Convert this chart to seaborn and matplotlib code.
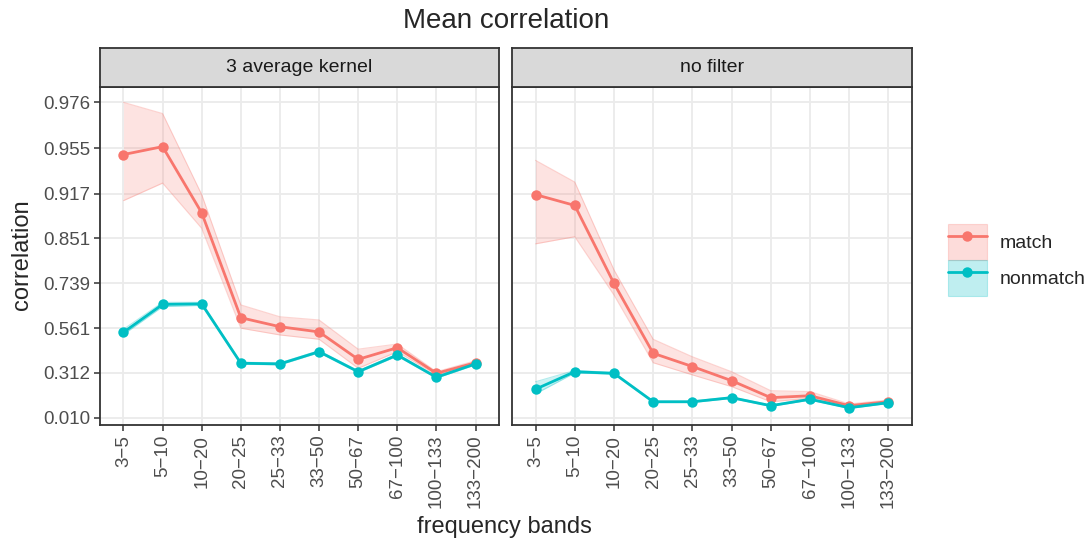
import numpy as np
import pandas as pd
import matplotlib
matplotlib.use("Agg")
import matplotlib.pyplot as plt
import seaborn as sns
from matplotlib.patches import Patch
from matplotlib.lines import Line2D

# --------------------------------------------------
# data (correlations)
# --------------------------------------------------
bands = ["3\u22125", "5\u221210", "10\u221220", "20\u221225", "25\u221233",
         "33\u221250", "50\u221267", "67\u2212100", "100\u2212133", "133\u2212200"]
panels = ["3 average kernel", "no filter"]
groups = ["match", "nonmatch"]

# 3 average kernel
kernel_match = [0.951, 0.956, 0.893, 0.609, 0.568, 0.543, 0.395, 0.461, 0.310, 0.375]
kernel_match_lo = [0.909, 0.928, 0.869, 0.561, 0.528, 0.506, 0.341, 0.439, 0.300, 0.362]
kernel_match_hi = [0.976, 0.972, 0.916, 0.662, 0.613, 0.599, 0.453, 0.481, 0.320, 0.387]
kernel_nonmatch = [0.541, 0.664, 0.666, 0.372, 0.368, 0.439, 0.320, 0.420, 0.285, 0.368]
kernel_nonmatch_lo = [0.530, 0.655, 0.660, 0.366, 0.362, 0.433, 0.314, 0.414, 0.279, 0.362]
kernel_nonmatch_hi = [0.556, 0.672, 0.672, 0.378, 0.374, 0.445, 0.326, 0.426, 0.291, 0.374]

# no filter
nofilt_match = [0.916, 0.903, 0.738, 0.430, 0.352, 0.263, 0.150, 0.163, 0.095, 0.123]
nofilt_match_lo = [0.840, 0.854, 0.699, 0.375, 0.300, 0.224, 0.122, 0.146, 0.084, 0.112]
nofilt_match_hi = [0.947, 0.929, 0.778, 0.506, 0.410, 0.320, 0.197, 0.191, 0.107, 0.134]
nofilt_nonmatch = [0.207, 0.320, 0.310, 0.122, 0.122, 0.150, 0.095, 0.139, 0.081, 0.116]
nofilt_nonmatch_lo = [0.176, 0.312, 0.305, 0.117, 0.117, 0.145, 0.090, 0.134, 0.076, 0.111]
nofilt_nonmatch_hi = [0.256, 0.328, 0.315, 0.127, 0.127, 0.155, 0.100, 0.144, 0.086, 0.121]

y_ticks = [0.010, 0.312, 0.561, 0.739, 0.851, 0.917, 0.955, 0.976]

# --------------------------------------------------
# long table, y on Fisher-z (atanh) scale
# --------------------------------------------------
series = {
    ("3 average kernel", "match"): (kernel_match, kernel_match_lo, kernel_match_hi),
    ("3 average kernel", "nonmatch"): (kernel_nonmatch, kernel_nonmatch_lo, kernel_nonmatch_hi),
    ("no filter", "match"): (nofilt_match, nofilt_match_lo, nofilt_match_hi),
    ("no filter", "nonmatch"): (nofilt_nonmatch, nofilt_nonmatch_lo, nofilt_nonmatch_hi),
}
rows = []
for (panel, grp), (mid, lo, hi) in series.items():
    for i, b in enumerate(bands):
        rows.append({"panel": panel, "group": grp, "band": b, "pos": i,
                     "z": np.arctanh(mid[i]), "zlo": np.arctanh(lo[i]), "zhi": np.arctanh(hi[i])})
df = pd.DataFrame(rows)

palette = {"match": "#F8766D", "nonmatch": "#00BFC4"}

sns.set_style("white")
plt.rcParams["font.family"] = ["Liberation Sans", "DejaVu Sans"]

W, H = 1089, 542
fig = plt.figure(figsize=(W / 100, H / 100), dpi=100)

def fx(px):
    return px / W

def fy(py):
    return 1 - py / H

panel_x = [(100, 499), (512, 912)]
top_px, bot_px, strip_top = 87, 425, 48

zt = np.arctanh(y_ticks)
for k, panel in enumerate(panels):
    x0, x1 = panel_x[k]
    ax = fig.add_axes([fx(x0), fy(bot_px), fx(x1 - x0), (bot_px - top_px) / H])
    sub = df[df["panel"] == panel]
    for grp in groups:
        g = sub[sub["group"] == grp]
        ax.fill_between(g["pos"], g["zlo"], g["zhi"], color=palette[grp], alpha=0.2, lw=0)
        ax.plot(g["pos"], g["zlo"], color=palette[grp], alpha=0.3, lw=0.8)
        ax.plot(g["pos"], g["zhi"], color=palette[grp], alpha=0.3, lw=0.8)
    sns.lineplot(data=sub, x="pos", y="z", hue="group", palette=palette,
                 marker="o", markersize=7.5, markeredgewidth=0, linewidth=2,
                 legend=False, ax=ax, zorder=3)
    ax.set_xlim(-0.6, 9.6)
    ax.set_ylim(-0.039, 2.312)
    ax.set_xticks(range(len(bands)))
    ax.set_xticklabels(bands, rotation=90, fontsize=13.5, color="#4D4D4D")
    ax.set_yticks(zt)
    if k == 0:
        ax.set_yticklabels([f"{v:.3f}" for v in y_ticks], fontsize=13.5, color="#4D4D4D")
    else:
        ax.set_yticklabels([])
    ax.grid(True, color="#EBEBEB", lw=1.3)
    ax.set_axisbelow(True)
    ax.set_xlabel("")
    ax.set_ylabel("")
    for s in ax.spines.values():
        s.set_color("#333333")
        s.set_linewidth(1.3)
    ax.tick_params(axis="both", length=4, width=1.1, color="#333333", pad=3,
                   left=(k == 0), bottom=True)

    # facet strip
    sax = fig.add_axes([fx(x0), fy(top_px), fx(x1 - x0), (top_px - strip_top) / H])
    sax.set_facecolor("#D9D9D9")
    sax.set_xticks([])
    sax.set_yticks([])
    for s in sax.spines.values():
        s.set_color("#333333")
        s.set_linewidth(1.3)
    sax.text(0.5, 0.5, panel, ha="center", va="center", fontsize=14, color="#1A1A1A")

fig.text(fx(506), fy(21), "Mean correlation", ha="center", va="center", fontsize=20)
fig.text(fx(22), fy(255), "correlation", ha="center", va="center", rotation=90, fontsize=17)
fig.text(fx(504), fy(527), "frequency bands", ha="center", va="center", fontsize=17)

handles = []
for grp in groups:
    patch = Patch(facecolor=palette[grp], alpha=0.25, edgecolor=palette[grp], lw=0.8)
    line = Line2D([], [], color=palette[grp], lw=2, marker="o", markersize=7.5, markeredgewidth=0)
    handles.append((patch, line))
fig.legend(handles, groups, loc="center left", bbox_to_anchor=(fx(948), fy(260)),
           frameon=False, fontsize=14, handlelength=2.0, handleheight=2.45,
           labelspacing=0.0, handletextpad=0.65, borderpad=0, borderaxespad=0)

fig.savefig("out.png", dpi=100)
